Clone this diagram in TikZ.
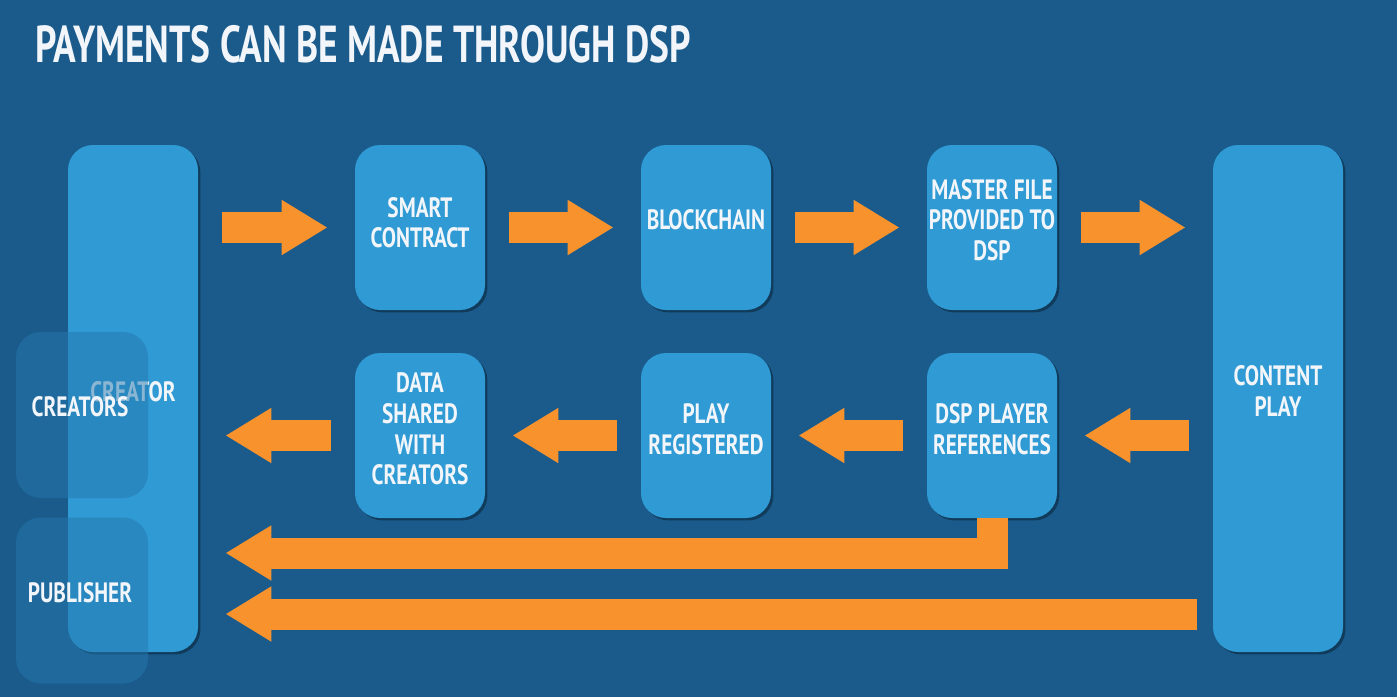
\documentclass[tikz,border=0pt]{standalone}
\usepackage{fontspec}
\setmainfont{PT Sans}[FakeStretch=0.76]
\newfontfamily\titlefont{PT Sans}[FakeStretch=0.72]
\usetikzlibrary{arrows.meta,shadows}
\definecolor{bgblue}{HTML}{1A5B8B}
\definecolor{boxblue}{HTML}{2F9AD3}
\definecolor{glassblue}{HTML}{2478AD}
\definecolor{arrorange}{HTML}{F7922D}
\definecolor{txtwhite}{HTML}{F2F6FA}
\begin{document}
\begin{tikzpicture}[x=0.5pt,y=-0.5pt,
  box/.style={fill=boxblue, rounded corners=12.5pt, minimum width=65pt, inner sep=0pt,
    drop shadow={shadow xshift=1.2pt, shadow yshift=-1.2pt, opacity=0.35, fill=black}},
  smallbox/.style={box, minimum height=82.5pt},
  tallbox/.style={box, minimum height=253.5pt},
  glass/.style={fill=glassblue, fill opacity=0.5, rounded corners=12.5pt, minimum width=66pt,
    minimum height=83pt, inner sep=0pt},
  lbl/.style={text=txtwhite, font=\bfseries\fontsize{14}{15.3}\selectfont, align=center, inner sep=0pt},
  barrow/.style={draw=arrorange, line width=15.5pt, -{Triangle[length=23pt,width=26pt]}},
  gapstart/.style={shorten <=12pt},
  gapend/.style={shorten >=13.5pt}]
\fill[bgblue] (0,0) rectangle (1397,697);
\useasboundingbox (0,0) rectangle (1397,697);

\node[anchor=base west, text=txtwhite, inner sep=0pt, font=\titlefont\bfseries\fontsize{26}{28}\selectfont] (title) at (35,62) {PAYMENTS CAN BE MADE THROUGH DSP};

% boxes
\node[tallbox] (creator) at (133,398.5) {};
\node[lbl] (creatortxt) at (133,392) {CREATOR};
\node[smallbox] (sc) at (420,227.5) {};
\node[smallbox] (bc) at (706,227.5) {};
\node[smallbox] (mf) at (992,227.5) {};
\node[tallbox] (content) at (1278,398.5) {};
\node[smallbox] (ds) at (420,435.5) {};
\node[smallbox] (pr) at (706,435.5) {};
\node[smallbox] (dsp) at (992,435.5) {};

\node[lbl] (sctxt) at (420,222.5) {SMART\\CONTRACT};
\node[lbl] (bctxt) at (706,220) {BLOCKCHAIN};
\node[lbl] (mftxt) at (992,220) {MASTER FILE\\PROVIDED TO\\DSP};
\node[lbl] (contenttxt) at (1278,391) {CONTENT\\PLAY};
\node[lbl] (dstxt) at (420,429) {DATA\\SHARED\\WITH\\CREATORS};
\node[lbl] (prtxt) at (706,429) {PLAY\\REGISTERED};
\node[lbl] (dsptxt) at (992,429) {DSP PLAYER\\REFERENCES};

% translucent boxes
\node[glass] (creators) at (82,415) {};
\node[glass] (publisher) at (82,600.5) {};
\node[lbl] (creatorstxt) at (80,407) {CREATORS};
\node[lbl] (publishertxt) at (80,593) {PUBLISHER};

% connectors
\coordinate (r1) at (0,553);
\coordinate (r2) at (0,614);
\draw[barrow, gapstart, gapend] (creator.east |- sc.west) -- (sc.west);
\draw[barrow, gapstart, gapend] (sc.east) -- (bc.west);
\draw[barrow, gapstart, gapend] (bc.east) -- (mf.west);
\draw[barrow, gapstart, gapend] (mf.east) -- (content.west |- mf.east);
\draw[barrow, gapstart, gapend] (content.west |- dsp.east) -- (dsp.east);
\draw[barrow, gapstart, gapend] (dsp.west) -- (pr.east);
\draw[barrow, gapstart, gapend] (pr.west) -- (ds.east);
\draw[barrow, gapstart, gapend] (ds.west) -- (creator.east |- ds.west);
\draw[barrow, gapend] (dsp.south) |- (creator.east |- r1);
\draw[barrow, shorten <=8pt, gapend] (content.west |- r2) -- (creator.east |- r2);
\end{tikzpicture}
\end{document}
